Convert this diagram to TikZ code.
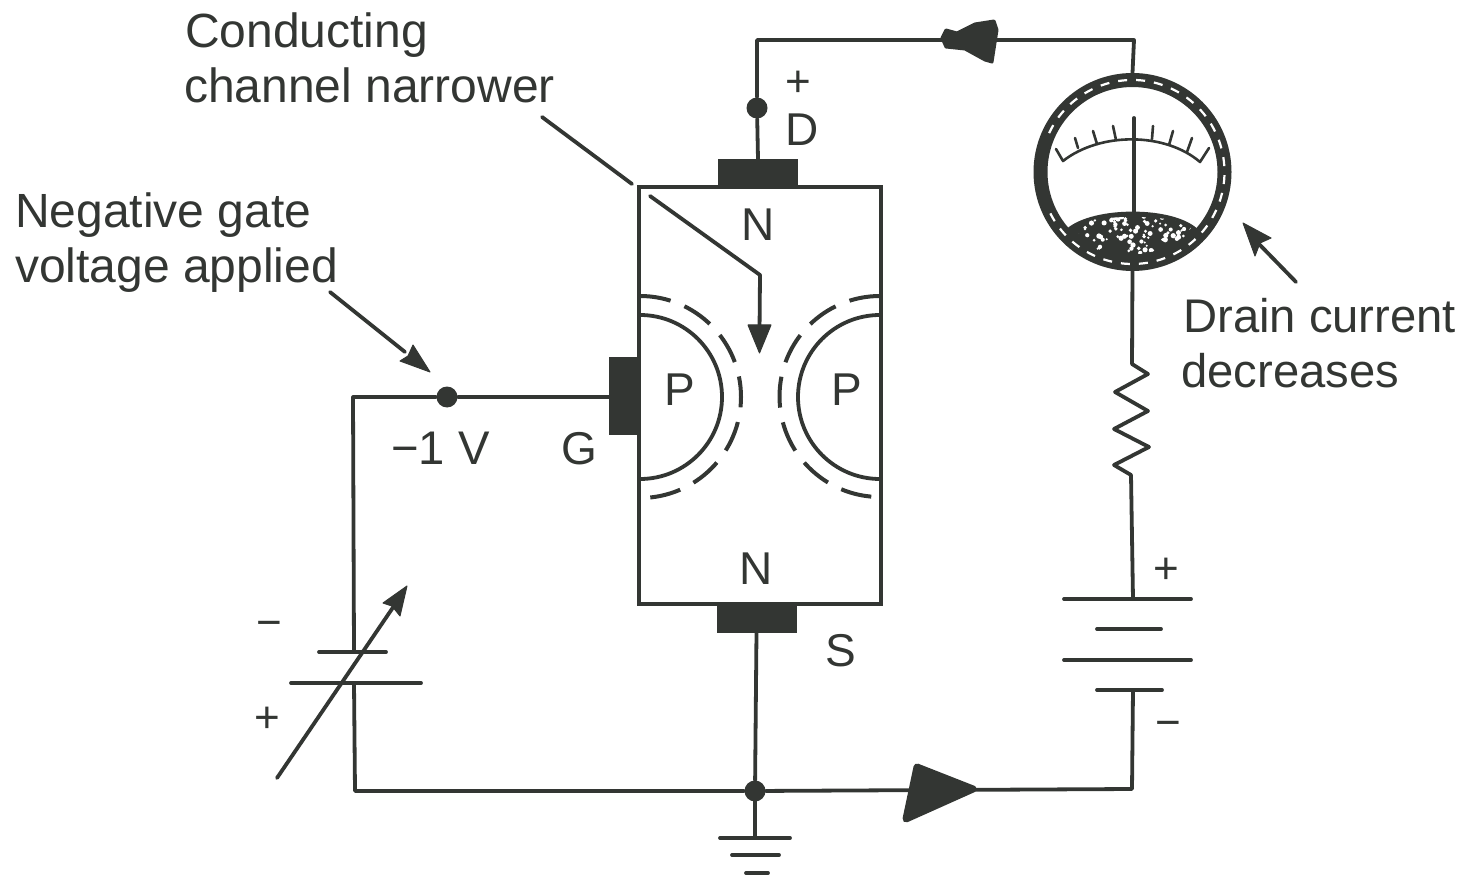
\documentclass[tikz,border=0pt]{standalone}
\usepackage{fontspec}
\setmainfont{Liberation Sans}
\usetikzlibrary{calc}
\definecolor{ink}{HTML}{333633}
\tikzset{
  wire/.style={draw=ink,line width=3.8pt,line join=round,line cap=round},
  thin wire/.style={draw=ink,line width=2.6pt,line join=round,line cap=round},
  contact/.style={rectangle,fill=ink,draw=ink,line width=0.5pt,inner sep=0pt},
  junction/.style={circle,fill=ink,inner sep=0pt,minimum size=21pt},
  label/.style={text=ink,font=\fontsize{48}{56}\selectfont,inner sep=0pt,anchor=base west},
  smalllabel/.style={text=ink,font=\fontsize{47.2}{56}\selectfont,inner sep=0pt,anchor=base west},
  letter/.style={text=ink,font=\fontsize{46}{54}\selectfont,inner sep=0pt,anchor=base},
  sign/.style={text=ink,font=\fontsize{44}{50}\selectfont,inner sep=0pt,anchor=center},
  plate/.style={wire},
  flowhead/.style={fill=ink,draw=ink,line width=7pt,line join=round},
  pointerhead/.style={fill=ink,draw=ink,line width=1pt,line join=round},
  dashring/.style={draw=ink,line width=4pt,dash pattern=on 31pt off 15pt},
}
\begin{document}
\begin{tikzpicture}[x=1pt,y=-1pt]
\useasboundingbox (0,0) rectangle (1465,877);

% transistor body
\node[draw=ink,line width=3.8pt,minimum width=242pt,minimum height=417pt,inner sep=0pt] (body) at (760,395.5) {};

% P regions
\draw[wire] (640,315) arc[start angle=90,end angle=-90,radius=82pt];
\draw[wire] (880,315) arc[start angle=90,end angle=270,radius=82pt];
\draw[dashring,dash phase=0pt] (640,296) arc[start angle=90,end angle=-90,radius=101pt];
\draw[dashring,dash phase=0pt] (880,296) arc[start angle=90,end angle=270,radius=100.5pt];

% contacts
\node[contact,minimum width=79pt,minimum height=28pt] (drainpad) at (758,173.5) {};
\node[contact,minimum width=79pt,minimum height=28pt] (sourcepad) at (756.5,618) {};
\node[contact,minimum width=31pt,minimum height=77pt] (gatepad) at (624.5,396) {};

% junctions and free ends
\node[junction,minimum size=21pt] (dj) at (757,108) {};
\node[junction,minimum size=21pt] (gj) at (447,397) {};
\node[junction,minimum size=21pt] (sj) at (755,791) {};
\coordinate (tl) at (757,40);
\coordinate (tr) at (1134,40);
\coordinate (gl) at (353,397);
\coordinate (bl) at (355,791);
\coordinate (br) at (1132,789);

% meter
\node[circle,draw=ink,line width=14pt,minimum size=184pt,inner sep=0pt,fill=white] (meter) at (1132.5,172) {};

% batteries
\coordinate (vplateA) at (354,652);
\coordinate (vplateB) at (354,683);
\coordinate (bplateA) at (1133,599);
\coordinate (bplateD) at (1133,690);

% wires
\draw[wire] (drainpad.north) -- (dj) -- (tl) -- (tr) -- (meter.north);
\draw[wire] (gatepad.west |- gj) -- (gj) -- (gl) -- (vplateA);
\draw[wire] (vplateB) -- (bl) -- (sj) -- (br) -- (bplateD);
\draw[wire] (sourcepad.south) -- (sj);
\coordinate (gnd1) at (755,838);
\draw[wire] (sj) -- (gnd1);
\draw[wire] (720,838) -- (790,838);
\draw[wire] (732,855) -- (779,855);
\draw[wire] (746,873) -- (768,873);

% resistor
\draw[wire] (meter.south) -- (1132,364) -- (1148,374) -- (1115,392) -- (1148,411) -- (1114,429) -- (1149,447) -- (1114,465) -- (1131,475) -- (bplateA);

% DC battery
\draw[plate] (1064,599) -- (1191,599);
\draw[plate] (1097,629) -- (1161,629);
\draw[plate] (1064,660) -- (1191,660);
\draw[plate] (1097,690) -- (1162,690);

% variable battery
\draw[plate] (319,652) -- (386,652);
\draw[plate] (291,683) -- (421,683);
\draw[wire] (277,778) -- (396,603);
\draw[pointerhead] (407,586) -- (400,616) -- (392,606) -- (383,603) -- cycle;

% flow arrowheads on wires
\draw[flowhead] (973,789) -- (917,767) -- (906,819) -- cycle;
\draw[fill=ink,draw=ink,line width=3pt,line join=round] (942,38) -- (946,30) -- (957,33) -- (975,24) -- (994,21) -- (997,30) -- (992,62) -- (985,60) -- (965,49) -- (946,47) -- cycle;

% meter dial
\draw[white,line width=2.2pt,dash pattern=on 9pt off 9pt] (1049.1,133.1) arc[start angle=155,end angle=-155,radius=92pt];
\path[fill=ink] (1196.9,228.4) .. controls (1172,206) and (1094,206) .. (1067.1,228.4) arc[start angle=-139,end angle=-41,radius=86pt] -- cycle;
\begin{scope}
\clip (1072,226) .. controls (1092,214) and (1172,214) .. (1192,226) -- (1180,246) -- (1140,254) -- (1095,250) -- cycle;
\pgfmathsetseed{4217}
\foreach \i in {1,...,90}{
  \pgfmathsetmacro{\px}{1072+120*rnd}
  \pgfmathsetmacro{\py}{214+40*rnd}
  \pgfmathsetmacro{\pr}{1.1+1.6*rnd}
  \fill[white] (\px,\py) circle[radius=\pr pt];
}
\end{scope}
\draw[thin wire] (1056,149) -- (1063,161) .. controls (1100,132) and (1165,132) .. (1200,162) -- (1209,148);
\foreach \a/\b/\c/\d in {1078/148/1075/138, 1097/144/1093/131, 1116/140/1113/126, 1152/139/1153/126, 1169/145/1173/131, 1187/152/1192/138}{
  \draw[thin wire] (\a,\b) -- (\c,\d);
}
\draw[wire] (1134,118) -- (1134,212);

% pointers
\coordinate (pA) at (542,117);
\coordinate (pB) at (632,184);
\coordinate (pC) at (650,196);
\coordinate (pD) at (760,275);
\coordinate (pE) at (759.5,332);
\draw[wire] (pA) -- (pB);
\draw[wire] (pC) -- (pD) -- (pE);
\draw[pointerhead] (759.5,353) -- (748,325) -- (771,325) -- cycle;

\coordinate (nA) at (330,292);
\coordinate (nB) at (405,352);
\draw[wire] (nA) -- (nB);
\draw[pointerhead] (430,372) -- (400,361) -- (408,356) -- (413,345) -- cycle;

\coordinate (dA) at (1296,282);
\coordinate (dB) at (1258,243);
\draw[wire] (dA) -- (dB);
\draw[pointerhead] (1243,223) -- (1271,238) -- (1260,243) -- (1255,256) -- cycle;

% labels
\node[label] (t1) at (185,48) {Conducting};
\node[label] (t2) at (184,103) {channel narrower};
\node[label] (t3) at (15,228) {Negative gate};
\node[label] (t4) at (15,283) {voltage applied};
\node[smalllabel] (t5) at (1183,333) {Drain current};
\node[smalllabel] (t6) at (1181,388) {decreases};
\node[smalllabel] (t7) at (391,464) {−1 V};
\node[letter] (nt) at (758,241) {N};
\node[letter] (nb) at (756,584) {N};
\node[letter] (p1) at (680,406) {P};
\node[letter] (p2) at (847,406) {P};
\node[letter] (ld) at (802,146) {D};
\node[letter] (ls) at (841,666) {S};
\node[letter] (lg) at (579,464) {G};
\node[sign] (s1) at (798,84) {+};
\node[sign] (s2) at (269,629) {−};
\node[sign] (s3) at (267,720) {+};
\node[sign] (s4) at (1166,571) {+};
\node[sign] (s5) at (1168,729) {−};
\end{tikzpicture}
\end{document}
